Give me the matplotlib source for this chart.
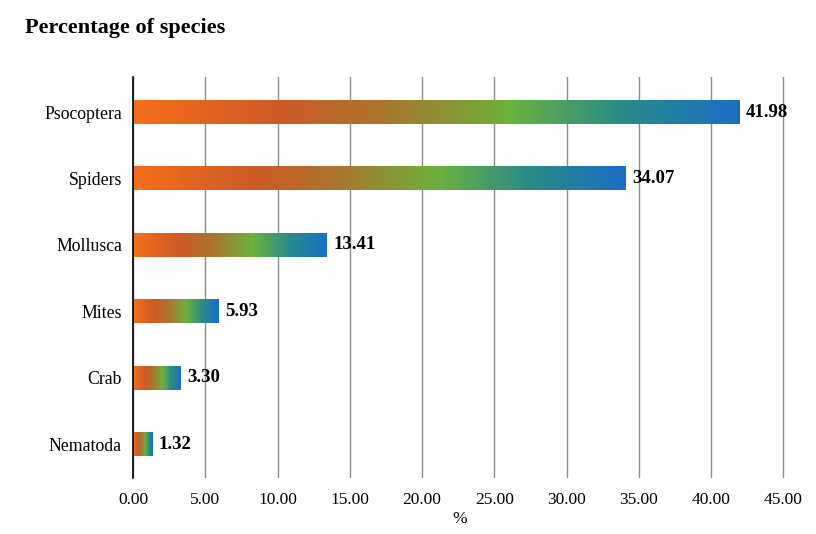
import numpy as np
import matplotlib.pyplot as plt
from matplotlib.colors import LinearSegmentedColormap

# ---- data ----
categories = ['Nematoda', 'Crab', 'Mites', 'Mollusca', 'Spiders', 'Psocoptera']
percent = [1.32, 3.30, 5.93, 13.41, 34.07, 41.98]
xticks = [0, 5, 10, 15, 20, 25, 30, 35, 40, 45]

plt.rcParams['font.family'] = ['Liberation Serif', 'DejaVu Serif']

grad = LinearSegmentedColormap.from_list('bar_grad', [
    (0.00, '#f56f1a'),
    (0.25, '#cc5a26'),
    (0.42, '#a9762e'),
    (0.62, '#6cb23e'),
    (0.80, '#2b8c86'),
    (1.00, '#1a6ec6'),
])

fig = plt.figure(figsize=(8.16, 5.34), dpi=100)
ax = fig.add_axes([0.163, 0.105, 0.797 * 45.2 / 45, 0.751])

bar_h = 0.36
ramp = np.linspace(0, 1, 256).reshape(1, -1)
for i, (cat, v) in enumerate(zip(categories, percent)):
    ax.imshow(ramp, cmap=grad, aspect='auto', interpolation='bilinear',
              extent=[0, v, i - bar_h / 2, i + bar_h / 2], zorder=3)
    ax.text(v + 0.45, i, f'{v:.2f}', va='center', ha='left',
            fontsize=13.5, fontweight='bold', zorder=4)

ax.set_xlim(0, 45.2)
ax.set_ylim(-0.51, 5.53)
ax.set_yticks(range(len(categories)))
ax.set_yticklabels(categories, fontsize=12.8)
ax.set_xticks(xticks)
ax.set_xticklabels([f'{t:.2f}' for t in xticks], fontsize=12.5)
ax.tick_params(length=0, pad=8)
ax.tick_params(axis='x', pad=10)

ax.grid(axis='x', color='#8c8c8c', linewidth=1.0, zorder=0)
ax.set_axisbelow(True)
for s in ['top', 'right', 'bottom']:
    ax.spines[s].set_visible(False)
ax.spines['left'].set_color('black')
ax.spines['left'].set_linewidth(1.2)
ax.spines['left'].set_zorder(5)

ax.set_xlabel('%', fontsize=12.5, labelpad=2)

fig.text(0.031, 0.948, 'Percentage of species', fontsize=16,
         fontweight='bold', ha='left', va='center')

fig.savefig('out.png', dpi=100)
